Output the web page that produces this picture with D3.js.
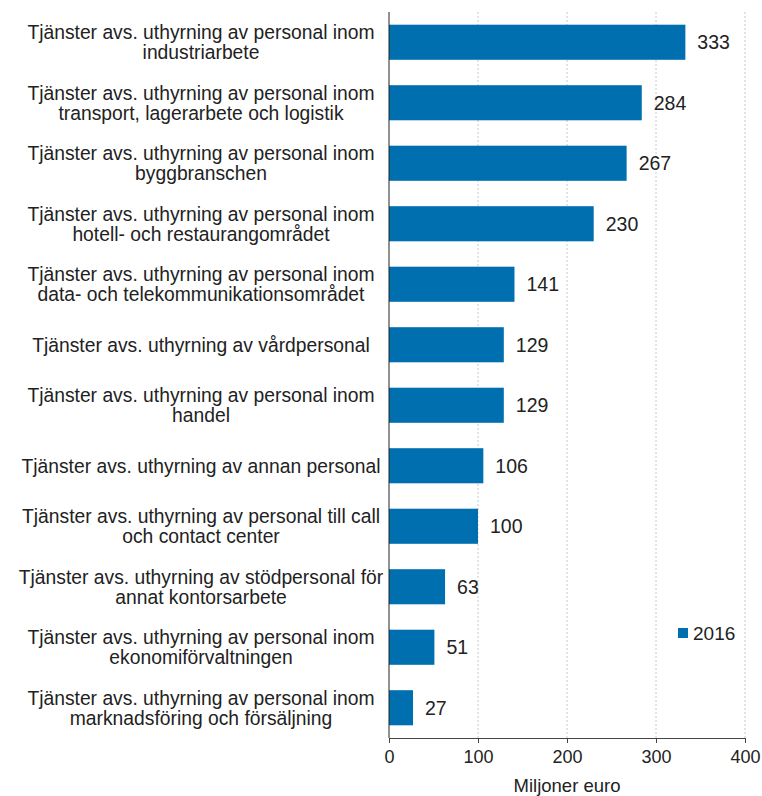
<!DOCTYPE html>
<meta charset="utf-8">
<script src="https://d3js.org/d3.v7.min.js"></script>
<style>
  body { margin: 0; background: #fff; }
  text { font-family: "Liberation Sans", Arial, sans-serif; fill: #222; }
</style>
<div id="chart"></div>
<script>
  // data
  const categories = [
    ["Tjänster avs. uthyrning av personal inom", "industriarbete"],
    ["Tjänster avs. uthyrning av personal inom", "transport, lagerarbete och logistik"],
    ["Tjänster avs. uthyrning av personal inom", "byggbranschen"],
    ["Tjänster avs. uthyrning av personal inom", "hotell- och restaurangområdet"],
    ["Tjänster avs. uthyrning av personal inom", "data- och telekommunikationsområdet"],
    ["Tjänster avs. uthyrning av vårdpersonal"],
    ["Tjänster avs. uthyrning av personal inom", "handel"],
    ["Tjänster avs. uthyrning av annan personal"],
    ["Tjänster avs. uthyrning av personal till call", "och contact center"],
    ["Tjänster avs. uthyrning av stödpersonal för", "annat kontorsarbete"],
    ["Tjänster avs. uthyrning av personal inom", "ekonomiförvaltningen"],
    ["Tjänster avs. uthyrning av personal inom", "marknadsföring och försäljning"]
  ];
  const values2016 = [333, 284, 267, 230, 141, 129, 129, 106, 100, 63, 51, 27];
  const xTicks = [0, 100, 200, 300, 400];
  const seriesName = "2016";
  const axisTitle = "Miljoner euro";

  const W = 762, H = 796;
  const margin = {top: 12, right: 17, bottom: 58, left: 389};
  const width = W - margin.left - margin.right,
        height = H - margin.top - margin.bottom;
  const color = "#006fb0";

  const svg = d3.select("#chart").append("svg")
      .attr("width", W).attr("height", H);
  const g = svg.append("g")
      .attr("transform", `translate(${margin.left},${margin.top})`);

  const x = d3.scaleLinear().domain([0, 400]).range([0, 356]);
  const y = d3.scaleBand()
      .domain(d3.range(categories.length))
      .range([0, height])
      .paddingInner(0.42).paddingOuter(0.21);

  // gridlines
  g.selectAll(".grid").data(xTicks.filter(d => d > 0)).join("line")
      .attr("x1", d => x(d)).attr("x2", d => x(d))
      .attr("y1", 0).attr("y2", height)
      .attr("stroke", "#c8c8c8").attr("stroke-dasharray", "2,2");

  // bars
  g.selectAll(".bar").data(values2016).join("rect")
      .attr("x", 0)
      .attr("y", (d, i) => y(i))
      .attr("width", d => x(d))
      .attr("height", y.bandwidth())
      .attr("fill", color);

  // value labels
  g.selectAll(".val").data(values2016).join("text")
      .attr("x", d => x(d) + 12)
      .attr("y", (d, i) => y(i) + y.bandwidth() / 2)
      .attr("dy", "0.35em")
      .style("font-size", "19.5px")
      .text(d => d);

  // x axis
  const xAxis = g.append("g")
      .attr("transform", `translate(0,${height})`)
      .call(d3.axisBottom(x).tickValues(xTicks).tickSize(5).tickPadding(7));
  xAxis.select(".domain").attr("stroke", "#444");
  xAxis.selectAll(".tick line").attr("stroke", "#444");
  xAxis.selectAll(".tick text").style("font-size", "18px").attr("fill", "#222");

  // y axis line
  g.append("line")
      .attr("x1", 0).attr("x2", 0).attr("y1", 0).attr("y2", height)
      .attr("stroke", "#222");

  // category labels
  const labels = g.selectAll(".cat").data(categories).join("text")
      .attr("text-anchor", "middle")
      .style("font-size", "19.3px")
      .attr("transform", (d, i) => `translate(${201 - margin.left},${y(i) + y.bandwidth() / 2})`);
  labels.selectAll("tspan").data(d => d.map((t, j) => ({t, j, n: d.length}))).join("tspan")
      .attr("x", 0)
      .attr("y", d => (d.j - (d.n - 1) / 2) * 20)
      .attr("dy", "0.35em")
      .text(d => d.t);

  // axis title
  svg.append("text")
      .attr("x", 567)
      .attr("y", 792)
      .attr("text-anchor", "middle")
      .style("font-size", "18.5px")
      .text(axisTitle);

  // legend
  const leg = svg.append("g").attr("transform", "translate(678,628)");
  leg.append("rect").attr("width", 10).attr("height", 10).attr("fill", color);
  leg.append("text").attr("x", 15).attr("y", 5).attr("dy", "0.35em")
      .style("font-size", "19px").text(seriesName);
</script>
